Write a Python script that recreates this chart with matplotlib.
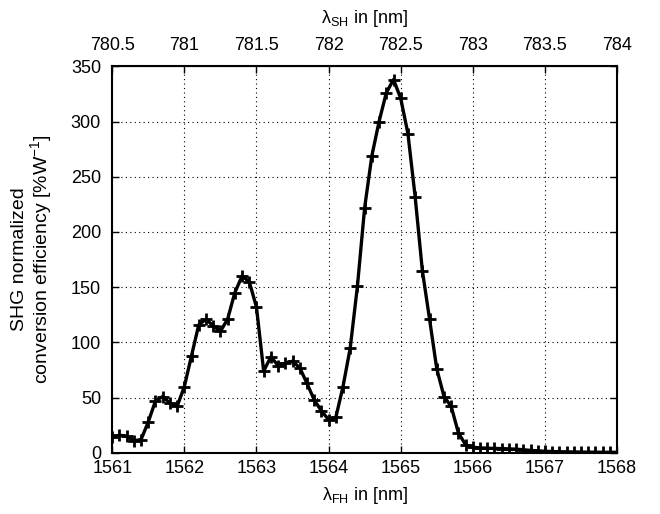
import matplotlib.pyplot as plt
import numpy as np

plt.rcParams['font.family'] = ['Liberation Sans', 'DejaVu Sans']
plt.rcParams['mathtext.fontset'] = 'custom'
plt.rcParams['mathtext.rm'] = 'Liberation Sans'
plt.rcParams['mathtext.it'] = 'Liberation Sans'

# fundamental wavelength in nm
wl_fh = [1561.0, 1561.1, 1561.2, 1561.3, 1561.4, 1561.5, 1561.6, 1561.7, 1561.8, 1561.9,
         1562.0, 1562.1, 1562.2, 1562.3, 1562.4, 1562.5, 1562.6, 1562.7, 1562.8, 1562.9,
         1563.0, 1563.1, 1563.2, 1563.3, 1563.4, 1563.5, 1563.6, 1563.7, 1563.8, 1563.9,
         1564.0, 1564.1, 1564.2, 1564.3, 1564.4, 1564.5, 1564.6, 1564.7, 1564.8, 1564.9,
         1565.0, 1565.1, 1565.2, 1565.3, 1565.4, 1565.5, 1565.6, 1565.7, 1565.8, 1565.9,
         1566.0, 1566.1, 1566.2, 1566.3, 1566.4, 1566.5, 1566.6, 1566.7, 1566.8, 1566.9,
         1567.0, 1567.1, 1567.2, 1567.3, 1567.4, 1567.5, 1567.6, 1567.7, 1567.8, 1567.9,
         1568.0]

# SHG normalized conversion efficiency in %/W
eff = [14, 16, 15, 11, 12, 28, 47, 51, 45, 42,
       60, 88, 116, 121, 115, 110, 121, 145, 160, 155,
       132, 74, 87, 79, 81, 83, 77, 63, 48, 38,
       30, 32, 60, 95, 151, 222, 269, 300, 326, 338,
       321, 289, 232, 165, 121, 76, 51, 42, 18, 7.3,
       5.0, 4.5, 4.2, 4.0, 3.8, 3.6, 3.3, 2.8, 2.2, 1.8,
       1.4, 1.2, 1.0, 0.9, 0.8, 0.7, 0.6, 0.6, 0.5, 0.5,
       0.5]

x_ticks = [1561, 1562, 1563, 1564, 1565, 1566, 1567, 1568]
y_ticks = [0, 50, 100, 150, 200, 250, 300, 350]
top_ticks = [780.5, 781, 781.5, 782, 782.5, 783, 783.5, 784]

fig = plt.figure(figsize=(6.6, 5.14), dpi=100)
ax = fig.add_axes([0.170, 0.119, 0.765, 0.752])

ax.plot(wl_fh, eff, color='black', lw=2.4, marker='+', ms=9, mew=2.0)

ax.set_xlim(1561, 1568)
ax.set_ylim(0, 350)
ax.set_xticks(x_ticks)
ax.set_yticks(y_ticks)
ax.set_xticklabels([str(t) for t in x_ticks])
ax.grid(True, color='black', linestyle=(0, (1, 3)), linewidth=0.8)

ax.tick_params(direction='in', length=5, width=1, labelsize=13, top=False, right=True)
ax.tick_params(axis='y', pad=8)
ax.tick_params(axis='x', pad=5)
for s in ax.spines.values():
    s.set_linewidth(1.5)

ax.set_xlabel(r'$\lambda_{\rm FH}$ in [nm]', fontsize=13, labelpad=6)
ax.set_ylabel('SHG normalized\nconversion efficiency [%W$^{-1}$]', fontsize=14,
              va='center', ha='center', linespacing=1.0)
ax.yaxis.set_label_coords(-0.158, 0.5)

top = ax.secondary_xaxis('top', functions=(lambda x: x / 2, lambda x: x * 2))
top.set_xticks(top_ticks)
top.set_xticklabels(['780.5', '781', '781.5', '782', '782.5', '783', '783.5', '784'])
top.tick_params(direction='in', length=5, width=1, labelsize=13, pad=9)
top.set_xlabel(r'$\lambda_{\rm SH}$ in [nm]', fontsize=13, labelpad=10)

fig.savefig('out.png', dpi=100)
